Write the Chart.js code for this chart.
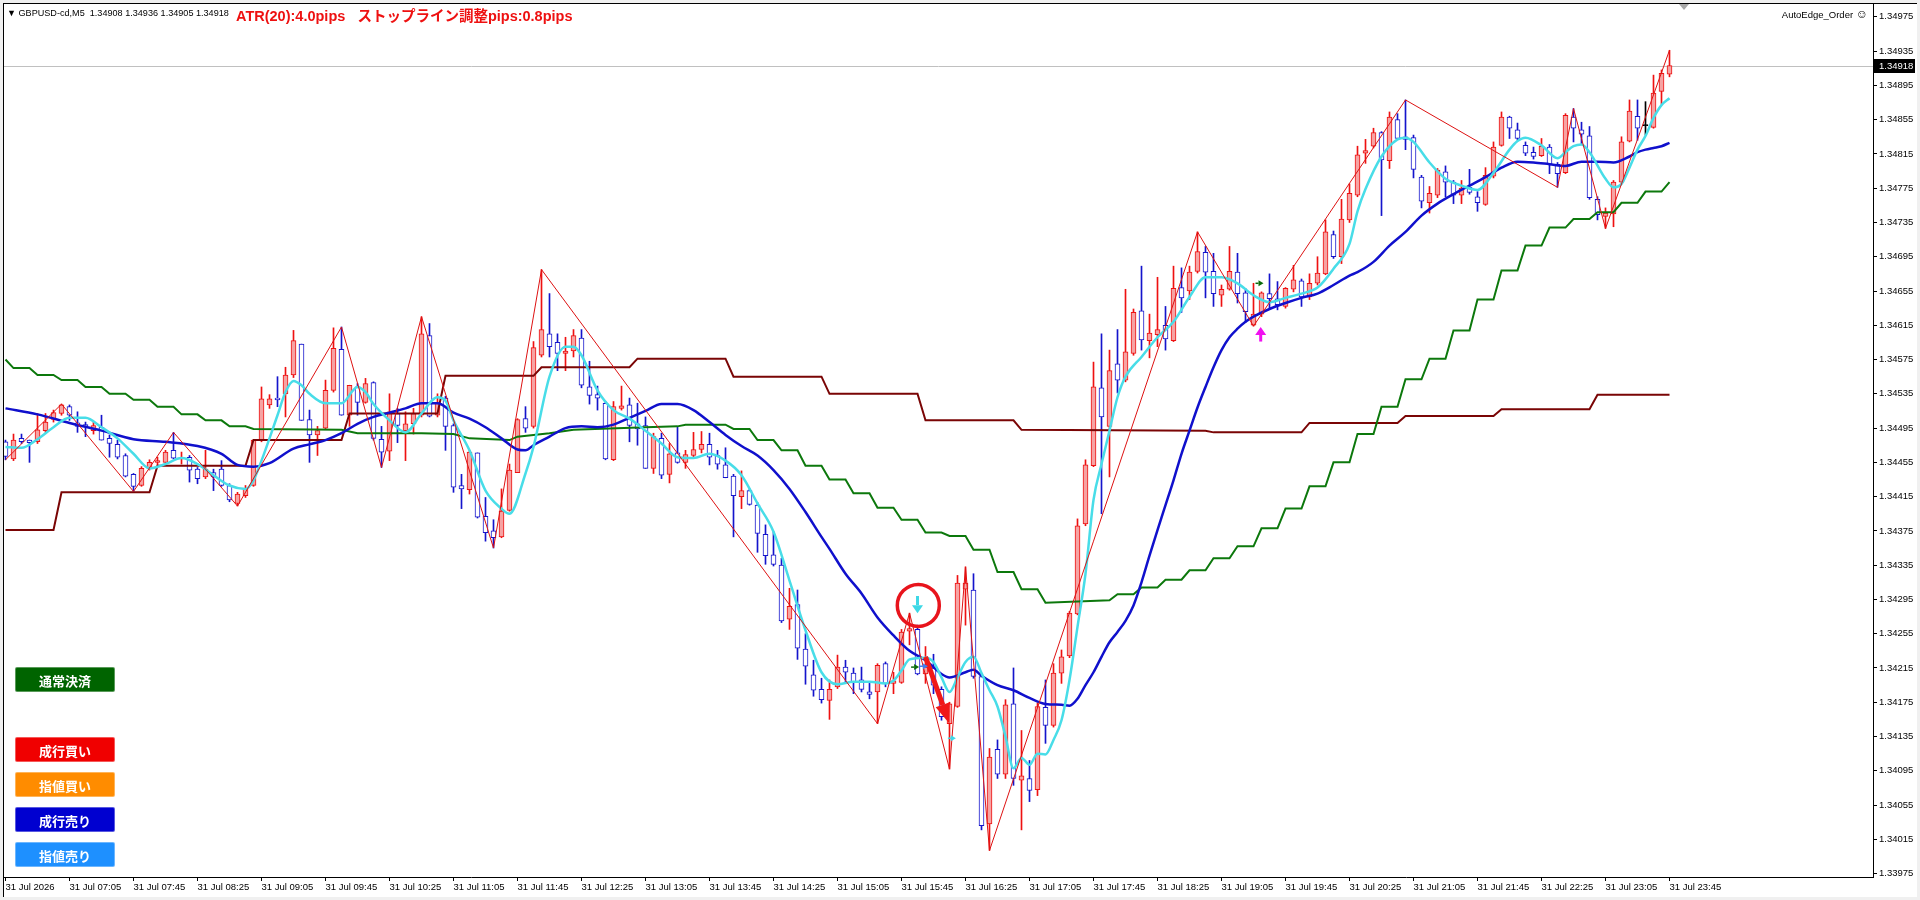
<!DOCTYPE html>
<html>
<head>
<meta charset="utf-8">
<title>GBPUSD-cd,M5</title>
<script src="https://cdn.jsdelivr.net/npm/chart.js@4.4.1/dist/chart.umd.min.js"></script>
<style>
    html, body { margin: 0; padding: 0; width: 1920px; height: 900px; overflow: hidden; background: #f0f0f0; }
    #frame { position: absolute; left: 3px; top: 3px; width: 1913px; height: 893px; background: #fff;
             border-left: 1px solid #000; border-top: 1px solid #000; }
    #chart { position: absolute; left: 0; top: 0; }
    .txt { position: absolute; white-space: pre; font-family: 'Liberation Sans', Arial, sans-serif; }
    #info { left: 7px; top: 8px; font-size: 9.1px; color: #000; }
    #atr { left: 236px; top: 4px; font-size: 14.5px; font-weight: bold; color: #ee1111;
           font-family: 'Liberation Sans', 'Noto Sans CJK JP', sans-serif; }
    #ea { right: 52px; top: 7px; font-size: 9.5px; color: #000; font-family: 'Liberation Sans', 'DejaVu Sans', sans-serif; }
    #ea span { font-size: 12px; }
    #shift { position: absolute; left: 1679px; top: 4px; width: 0; height: 0;
             border-left: 5px solid transparent; border-right: 5px solid transparent; border-top: 6px solid #a8a8a8; }
    .btn { position: absolute; left: 15px; width: 100px; height: 25px; line-height: 25px; text-align: center;
           color: #fff; font-size: 13px; font-weight: bold; border-radius: 2px;
           font-family: 'Noto Sans CJK JP', sans-serif; box-sizing: border-box; border: 1px solid rgba(255,255,255,0.35); }
</style>
</head>
<body>
<div id="frame"></div>
<canvas id="chart" width="1920" height="900"></canvas>
<div class="txt" id="info">▼ GBPUSD-cd,M5  1.34908 1.34936 1.34905 1.34918</div>
<div class="txt" id="atr">ATR(20):4.0pips   ストップライン調整pips:0.8pips</div>
<div class="txt" id="ea">AutoEdge_Order <span>☺</span></div>
<div id="shift"></div>
<div class="btn" style="top:667px;background:#006400;">通常決済</div>
<div class="btn" style="top:737px;background:#f00000;">成行買い</div>
<div class="btn" style="top:772px;background:#ff8c00;">指値買い</div>
<div class="btn" style="top:807px;background:#0000d0;">成行売り</div>
<div class="btn" style="top:842px;background:#1e90ff;">指値売り</div>

<script>
// M5 bars, 31 Jul 06:25 .. 23:45
const opens = [
    1.34479, 1.34459, 1.34483, 1.34481, 1.34479, 1.34492, 1.34505, 1.34512, 1.34520, 1.34501,
    1.34499, 1.34492, 1.34496, 1.34483, 1.34476, 1.34463, 1.34441, 1.34428, 1.34448, 1.34455,
    1.34455, 1.34469, 1.34459, 1.34461, 1.34447, 1.34438, 1.34443, 1.34447, 1.34428, 1.34407,
    1.34416, 1.34428, 1.34481, 1.34522, 1.34530, 1.34535, 1.34557, 1.34593, 1.34505, 1.34487,
    1.34495, 1.34539, 1.34587, 1.34510, 1.34543, 1.34525, 1.34548, 1.34482, 1.34468, 1.34512,
    1.34492, 1.34500, 1.34510, 1.34603, 1.34510, 1.34530, 1.34498, 1.34428, 1.34423, 1.34466,
    1.34392, 1.34375, 1.34368, 1.34399, 1.34443, 1.34506, 1.34497, 1.34580, 1.34605, 1.34595,
    1.34582, 1.34585, 1.34600, 1.34543, 1.34534, 1.34524, 1.34458, 1.34518, 1.34522, 1.34500,
    1.34498, 1.34448, 1.34483, 1.34441, 1.34466, 1.34455, 1.34463, 1.34470, 1.34476, 1.34463,
    1.34452, 1.34439, 1.34415, 1.34422, 1.34405, 1.34371, 1.34347, 1.34335, 1.34272, 1.34289,
    1.34237, 1.34207, 1.34190, 1.34177, 1.34193, 1.34216, 1.34209, 1.34201, 1.34187, 1.34187,
    1.34220, 1.34197, 1.34198, 1.34258, 1.34260, 1.34208, 1.34215, 1.34190, 1.34150, 1.34170,
    1.34307, 1.34306, 1.34205, 1.34033, 1.34120, 1.34091, 1.34173, 1.34084, 1.34086, 1.34073,
    1.34169, 1.34148, 1.34209, 1.34229, 1.34278, 1.34383, 1.34451, 1.34542, 1.34497, 1.34570,
    1.34551, 1.34582, 1.34632, 1.34597, 1.34604, 1.34615, 1.34597, 1.34659, 1.34655, 1.34678,
    1.34700, 1.34678, 1.34650, 1.34657, 1.34677, 1.34653, 1.34615, 1.34628, 1.34652, 1.34646,
    1.34637, 1.34657, 1.34667, 1.34648, 1.34664, 1.34675, 1.34721, 1.34695, 1.34738, 1.34767,
    1.34816, 1.34824, 1.34840, 1.34807, 1.34855, 1.34835, 1.34834, 1.34788, 1.34758, 1.34767,
    1.34794, 1.34782, 1.34767, 1.34776, 1.34765, 1.34756, 1.34789, 1.34825, 1.34858, 1.34843,
    1.34825, 1.34817, 1.34813, 1.34823, 1.34803, 1.34793, 1.34858, 1.34843, 1.34836, 1.34762,
    1.34742, 1.34745, 1.34782, 1.34830, 1.34859, 1.34848, 1.34846, 1.34888, 1.34908
];
const highs = [
    1.34481, 1.34488, 1.34488, 1.34481, 1.34512, 1.34512, 1.34516, 1.34523, 1.34522, 1.34514,
    1.34502, 1.34502, 1.34510, 1.34487, 1.34481, 1.34465, 1.34442, 1.34450, 1.34458, 1.34461,
    1.34469, 1.34490, 1.34467, 1.34463, 1.34449, 1.34469, 1.34447, 1.34457, 1.34430, 1.34420,
    1.34428, 1.34481, 1.34543, 1.34534, 1.34555, 1.34566, 1.34609, 1.34593, 1.34516, 1.34497,
    1.34551, 1.34612, 1.34613, 1.34545, 1.34547, 1.34553, 1.34549, 1.34497, 1.34535, 1.34518,
    1.34514, 1.34518, 1.34625, 1.34617, 1.34535, 1.34532, 1.34500, 1.34441, 1.34469, 1.34466,
    1.34414, 1.34388, 1.34424, 1.34453, 1.34506, 1.34520, 1.34596, 1.34680, 1.34652, 1.34605,
    1.34601, 1.34610, 1.34610, 1.34573, 1.34544, 1.34526, 1.34526, 1.34544, 1.34530, 1.34524,
    1.34508, 1.34489, 1.34489, 1.34477, 1.34497, 1.34469, 1.34490, 1.34491, 1.34489, 1.34469,
    1.34472, 1.34441, 1.34445, 1.34424, 1.34408, 1.34382, 1.34374, 1.34343, 1.34308, 1.34306,
    1.34255, 1.34224, 1.34203, 1.34201, 1.34230, 1.34224, 1.34215, 1.34216, 1.34197, 1.34220,
    1.34222, 1.34210, 1.34260, 1.34279, 1.34265, 1.34240, 1.34231, 1.34193, 1.34175, 1.34323,
    1.34333, 1.34325, 1.34207, 1.34121, 1.34131, 1.34178, 1.34215, 1.34142, 1.34107, 1.34174,
    1.34201, 1.34220, 1.34236, 1.34281, 1.34389, 1.34458, 1.34572, 1.34605, 1.34586, 1.34610,
    1.34657, 1.34634, 1.34684, 1.34628, 1.34671, 1.34637, 1.34684, 1.34682, 1.34684, 1.34724,
    1.34707, 1.34699, 1.34662, 1.34707, 1.34699, 1.34658, 1.34664, 1.34654, 1.34675, 1.34666,
    1.34659, 1.34685, 1.34669, 1.34675, 1.34695, 1.34738, 1.34725, 1.34762, 1.34780, 1.34824,
    1.34832, 1.34845, 1.34841, 1.34864, 1.34862, 1.34878, 1.34837, 1.34790, 1.34777, 1.34798,
    1.34801, 1.34784, 1.34784, 1.34797, 1.34771, 1.34799, 1.34829, 1.34864, 1.34859, 1.34851,
    1.34829, 1.34823, 1.34833, 1.34826, 1.34805, 1.34862, 1.34868, 1.34852, 1.34847, 1.34765,
    1.34752, 1.34784, 1.34835, 1.34878, 1.34878, 1.34876, 1.34907, 1.34913, 1.34936
];
const lows = [
    1.34458, 1.34457, 1.34477, 1.34455, 1.34477, 1.34490, 1.34502, 1.34510, 1.34504, 1.34490,
    1.34485, 1.34488, 1.34481, 1.34461, 1.34459, 1.34438, 1.34421, 1.34427, 1.34446, 1.34451,
    1.34453, 1.34459, 1.34453, 1.34432, 1.34430, 1.34436, 1.34422, 1.34427, 1.34409, 1.34404,
    1.34414, 1.34427, 1.34479, 1.34518, 1.34520, 1.34508, 1.34554, 1.34504, 1.34455, 1.34463,
    1.34494, 1.34537, 1.34510, 1.34497, 1.34510, 1.34524, 1.34481, 1.34449, 1.34457, 1.34478,
    1.34457, 1.34488, 1.34508, 1.34508, 1.34508, 1.34469, 1.34420, 1.34401, 1.34418, 1.34390,
    1.34363, 1.34355, 1.34367, 1.34398, 1.34443, 1.34490, 1.34495, 1.34578, 1.34578, 1.34562,
    1.34562, 1.34578, 1.34542, 1.34523, 1.34516, 1.34458, 1.34457, 1.34516, 1.34479, 1.34475,
    1.34448, 1.34442, 1.34436, 1.34431, 1.34454, 1.34448, 1.34461, 1.34466, 1.34452, 1.34447,
    1.34437, 1.34368, 1.34401, 1.34405, 1.34350, 1.34336, 1.34334, 1.34268, 1.34260, 1.34225,
    1.34196, 1.34182, 1.34174, 1.34155, 1.34191, 1.34197, 1.34185, 1.34187, 1.34179, 1.34150,
    1.34193, 1.34185, 1.34197, 1.34242, 1.34207, 1.34197, 1.34185, 1.34154, 1.34097, 1.34169,
    1.34265, 1.34203, 1.34026, 1.34002, 1.34086, 1.34086, 1.34078, 1.34026, 1.34059, 1.34066,
    1.34127, 1.34146, 1.34197, 1.34227, 1.34277, 1.34381, 1.34450, 1.34395, 1.34438, 1.34536,
    1.34549, 1.34580, 1.34586, 1.34577, 1.34590, 1.34586, 1.34596, 1.34630, 1.34645, 1.34676,
    1.34647, 1.34637, 1.34637, 1.34656, 1.34641, 1.34618, 1.34614, 1.34625, 1.34635, 1.34633,
    1.34635, 1.34654, 1.34637, 1.34645, 1.34662, 1.34674, 1.34693, 1.34687, 1.34735, 1.34765,
    1.34804, 1.34822, 1.34743, 1.34798, 1.34832, 1.34820, 1.34787, 1.34752, 1.34746, 1.34764,
    1.34765, 1.34757, 1.34757, 1.34768, 1.34748, 1.34755, 1.34787, 1.34824, 1.34833, 1.34831,
    1.34813, 1.34809, 1.34812, 1.34792, 1.34776, 1.34792, 1.34829, 1.34827, 1.34762, 1.34738,
    1.34728, 1.34730, 1.34780, 1.34829, 1.34831, 1.34837, 1.34845, 1.34873, 1.34905
];
const closes = [
    1.34462, 1.34481, 1.34479, 1.34478, 1.34493, 1.34502, 1.34513, 1.34522, 1.34510, 1.34497,
    1.34497, 1.34498, 1.34481, 1.34477, 1.34461, 1.34439, 1.34427, 1.34448, 1.34455, 1.34457,
    1.34467, 1.34460, 1.34461, 1.34446, 1.34436, 1.34447, 1.34438, 1.34428, 1.34411, 1.34418,
    1.34424, 1.34481, 1.34529, 1.34529, 1.34528, 1.34557, 1.34597, 1.34504, 1.34487, 1.34492,
    1.34539, 1.34588, 1.34510, 1.34545, 1.34525, 1.34547, 1.34483, 1.34467, 1.34514, 1.34498,
    1.34500, 1.34512, 1.34605, 1.34509, 1.34524, 1.34497, 1.34426, 1.34424, 1.34467, 1.34391,
    1.34373, 1.34367, 1.34398, 1.34446, 1.34505, 1.34495, 1.34589, 1.34610, 1.34590, 1.34582,
    1.34585, 1.34603, 1.34545, 1.34533, 1.34530, 1.34459, 1.34520, 1.34521, 1.34498, 1.34494,
    1.34448, 1.34485, 1.34440, 1.34465, 1.34455, 1.34464, 1.34470, 1.34476, 1.34461, 1.34453,
    1.34437, 1.34416, 1.34422, 1.34406, 1.34372, 1.34346, 1.34336, 1.34270, 1.34287, 1.34238,
    1.34217, 1.34189, 1.34178, 1.34190, 1.34216, 1.34210, 1.34199, 1.34190, 1.34184, 1.34218,
    1.34197, 1.34200, 1.34257, 1.34261, 1.34208, 1.34216, 1.34195, 1.34158, 1.34173, 1.34314,
    1.34314, 1.34205, 1.34031, 1.34111, 1.34091, 1.34172, 1.34086, 1.34089, 1.34072, 1.34170,
    1.34148, 1.34209, 1.34228, 1.34279, 1.34381, 1.34452, 1.34543, 1.34508, 1.34562, 1.34551,
    1.34584, 1.34630, 1.34598, 1.34606, 1.34610, 1.34599, 1.34658, 1.34647, 1.34677, 1.34701,
    1.34677, 1.34652, 1.34657, 1.34678, 1.34652, 1.34631, 1.34628, 1.34653, 1.34646, 1.34639,
    1.34658, 1.34668, 1.34648, 1.34664, 1.34676, 1.34724, 1.34695, 1.34739, 1.34769, 1.34814,
    1.34819, 1.34840, 1.34808, 1.34858, 1.34833, 1.34832, 1.34797, 1.34760, 1.34769, 1.34796,
    1.34782, 1.34767, 1.34775, 1.34770, 1.34758, 1.34790, 1.34823, 1.34858, 1.34845, 1.34833,
    1.34816, 1.34812, 1.34824, 1.34803, 1.34792, 1.34860, 1.34845, 1.34838, 1.34764, 1.34744,
    1.34746, 1.34782, 1.34829, 1.34865, 1.34845, 1.34848, 1.34886, 1.34909, 1.34918
];

// indicator lines, [bar, price]
const fastMA = [
    [0, 1.34473], [2, 1.34472], [4, 1.34482], [6, 1.34496], [8, 1.34507], [10, 1.34507], [12, 1.34496],
    [14, 1.34483], [16, 1.34465], [18, 1.34448], [20, 1.34453], [22, 1.34460], [24, 1.34453], [26, 1.34440],
    [28, 1.34428], [30, 1.34424], [31, 1.34434], [32, 1.34457], [34, 1.34510], [35, 1.34537], [36, 1.34550],
    [37, 1.34545], [38, 1.34535], [40, 1.34524], [42, 1.34524], [44, 1.34543], [45, 1.34537], [46, 1.34523],
    [48, 1.34504], [50, 1.34490], [52, 1.34512], [54, 1.34531], [55, 1.34527], [56, 1.34504], [58, 1.34469],
    [60, 1.34422], [62, 1.34401], [63, 1.34395], [65, 1.34442], [66, 1.34473], [68, 1.34555], [70, 1.34590],
    [71, 1.34590], [72, 1.34580], [74, 1.34539], [76, 1.34516], [78, 1.34506], [80, 1.34492], [82, 1.34477],
    [84, 1.34461], [86, 1.34460], [88, 1.34465], [90, 1.34457], [92, 1.34440], [94, 1.34407], [96, 1.34374],
    [98, 1.34317], [100, 1.34259], [102, 1.34210], [104, 1.34196], [106, 1.34199], [108, 1.34199],
    [110, 1.34197], [111, 1.34200], [112, 1.34212], [113, 1.34225], [115, 1.34227], [116, 1.34222],
    [117, 1.34204], [118, 1.34187], [119, 1.34204], [120, 1.34222], [121, 1.34228], [122, 1.34209],
    [123, 1.34189], [124, 1.34170], [125, 1.34135], [126, 1.34098], [127, 1.34110], [128, 1.34102],
    [129, 1.34115], [130, 1.34114], [131, 1.34131], [132, 1.34154], [133, 1.34201], [134, 1.34263],
    [135, 1.34325], [136, 1.34411], [137, 1.34453], [138, 1.34492], [139, 1.34531], [140, 1.34555],
    [142, 1.34578], [144, 1.34601], [146, 1.34619], [148, 1.34648], [150, 1.34671], [152, 1.34671],
    [154, 1.34664], [156, 1.34650], [158, 1.34642], [160, 1.34647], [162, 1.34652], [164, 1.34659],
    [166, 1.34681], [168, 1.34710], [169, 1.34748], [170, 1.34774], [172, 1.34812], [174, 1.34832],
    [175, 1.34834], [176, 1.34829], [178, 1.34805], [180, 1.34786], [182, 1.34778], [184, 1.34773],
    [186, 1.34793], [188, 1.34820], [189, 1.34830], [190, 1.34834], [192, 1.34825], [194, 1.34810],
    [195, 1.34817], [196, 1.34824], [197, 1.34826], [198, 1.34817], [200, 1.34786], [201, 1.34776],
    [202, 1.34780], [203, 1.34799], [204, 1.34820], [205, 1.34836], [206, 1.34857], [207, 1.34872],
    [208, 1.34880]
];
const slowMA = [
    [0, 1.34518], [4, 1.34511], [8, 1.34501], [12, 1.34492], [16, 1.34482], [20, 1.34479], [24, 1.34474],
    [27, 1.34465], [29, 1.34452], [31, 1.34450], [33, 1.34454], [36, 1.34471], [38, 1.34476], [40, 1.34481],
    [42, 1.34489], [44, 1.34500], [46, 1.34508], [48, 1.34513], [50, 1.34518], [52, 1.34524], [54, 1.34524],
    [56, 1.34513], [58, 1.34506], [60, 1.34496], [62, 1.34483], [64, 1.34470], [65, 1.34469], [66, 1.34475],
    [68, 1.34485], [70, 1.34495], [72, 1.34497], [74, 1.34496], [76, 1.34499], [78, 1.34507], [80, 1.34515],
    [82, 1.34523], [84, 1.34523], [86, 1.34516], [88, 1.34502], [90, 1.34487], [92, 1.34474], [94, 1.34463],
    [96, 1.34446], [98, 1.34424], [100, 1.34397], [102, 1.34368], [103, 1.34354], [105, 1.34325],
    [107, 1.34302], [109, 1.34274], [111, 1.34253], [113, 1.34235], [115, 1.34224], [117, 1.34208],
    [118, 1.34204], [120, 1.34210], [121, 1.34213], [122, 1.34206], [124, 1.34195], [126, 1.34189],
    [128, 1.34180], [130, 1.34173], [132, 1.34172], [133, 1.34171], [134, 1.34179], [135, 1.34195],
    [136, 1.34210], [137, 1.34228], [138, 1.34245], [139, 1.34257], [140, 1.34270], [141, 1.34288],
    [142, 1.34315], [143, 1.34346], [144, 1.34376], [145, 1.34405], [146, 1.34434], [147, 1.34465],
    [148, 1.34492], [149, 1.34519], [150, 1.34543], [151, 1.34566], [152, 1.34586], [153, 1.34601],
    [154, 1.34611], [155, 1.34619], [156, 1.34625], [158, 1.34634], [160, 1.34641], [162, 1.34647],
    [164, 1.34652], [166, 1.34662], [168, 1.34673], [169, 1.34677], [171, 1.34689], [173, 1.34708],
    [175, 1.34724], [177, 1.34743], [179, 1.34757], [181, 1.34768], [183, 1.34778], [185, 1.34788],
    [187, 1.34799], [189, 1.34806], [191, 1.34805], [193, 1.34803], [195, 1.34801], [197, 1.34806],
    [199, 1.34806], [201, 1.34805], [203, 1.34812], [204, 1.34817], [205, 1.34820], [206, 1.34822],
    [207, 1.34824], [208, 1.34828]
];
const greenStop = [
    [0, 1.34575], [1, 1.34565], [3, 1.34565], [4, 1.34557], [6, 1.34557], [7, 1.34551], [9, 1.34551],
    [10, 1.34543], [12, 1.34543], [13, 1.34535], [15, 1.34535], [16, 1.34528], [18, 1.34528], [19, 1.34520],
    [21, 1.34520], [22, 1.34511], [24, 1.34511], [25, 1.34504], [27, 1.34504], [28, 1.34497], [30, 1.34497],
    [31, 1.34494], [42, 1.34493], [44, 1.34489], [52, 1.34489], [56, 1.34488], [58, 1.34483], [63, 1.34481],
    [64, 1.34485], [68, 1.34489], [71, 1.34493], [80, 1.34496], [84, 1.34497], [85, 1.34499], [90, 1.34499],
    [91, 1.34494], [93, 1.34494], [94, 1.34481], [96, 1.34481], [97, 1.34469], [99, 1.34469], [100, 1.34451],
    [102, 1.34451], [103, 1.34435], [105, 1.34435], [106, 1.34419], [108, 1.34419], [109, 1.34402],
    [111, 1.34402], [112, 1.34388], [114, 1.34388], [115, 1.34373], [117, 1.34373], [118, 1.34369],
    [120, 1.34369], [121, 1.34353], [123, 1.34353], [124, 1.34327], [126, 1.34327], [127, 1.34307],
    [129, 1.34307], [130, 1.34291], [138, 1.34294], [139, 1.34301], [141, 1.34301], [142, 1.34309],
    [144, 1.34309], [145, 1.34318], [147, 1.34318], [148, 1.34329], [150, 1.34329], [151, 1.34343],
    [153, 1.34343], [154, 1.34357], [156, 1.34357], [157, 1.34378], [159, 1.34378], [160, 1.34401],
    [162, 1.34401], [163, 1.34427], [165, 1.34427], [166, 1.34455], [168, 1.34455], [169, 1.34488],
    [171, 1.34488], [172, 1.34520], [174, 1.34520], [175, 1.34552], [177, 1.34552], [178, 1.34576],
    [180, 1.34576], [181, 1.34609], [183, 1.34609], [184, 1.34645], [186, 1.34645], [187, 1.34679],
    [189, 1.34679], [190, 1.34708], [192, 1.34708], [193, 1.34729], [195, 1.34729], [196, 1.34739],
    [198, 1.34739], [199, 1.34747], [201, 1.34747], [202, 1.34758], [204, 1.34758], [205, 1.34771],
    [207, 1.34771], [208, 1.34782]
];
const hourLine = [
    [0, 1.34376], [6, 1.34376], [7, 1.34420], [18, 1.34420], [19, 1.34451], [30, 1.34451], [31, 1.34481],
    [42, 1.34481], [43, 1.34512], [54, 1.34512], [55, 1.34556], [66, 1.34556], [67, 1.34566], [78, 1.34566],
    [79, 1.34576], [90, 1.34576], [91, 1.34555], [102, 1.34555], [103, 1.34535], [114, 1.34535],
    [115, 1.34504], [126, 1.34504], [127, 1.34493], [150, 1.34492], [151, 1.34490], [162, 1.34490],
    [163, 1.34501], [174, 1.34501], [175, 1.34509], [186, 1.34509], [187, 1.34517], [198, 1.34517],
    [199, 1.34534], [208, 1.34534]
];
const zigzag = [
    [0, 1.34458], [7, 1.34523], [16, 1.34421], [21, 1.34490], [29, 1.34404], [42, 1.34613], [47, 1.34449],
    [52, 1.34625], [61, 1.34355], [67, 1.34680], [109, 1.34150], [113, 1.34279], [118, 1.34097],
    [120, 1.34333], [123, 1.34002], [149, 1.34724], [156, 1.34614], [175, 1.34878], [194, 1.34776],
    [196, 1.34868], [200, 1.34728], [208, 1.34936]
];

// signal objects, [bar, price] or [bar, price, bar, price]
const entryCircle = [114.1, 1.34288];
const sellArrow = [114, 1.34299, 114, 1.34279];
const exitArrow = [115, 1.34228, 118, 1.34150];
const buyArrow = [156.9, 1.34596, 156.9, 1.34613];
const smallMarks = [[113.7, 1.34216], [114.8, 1.34217], [118.3, 1.34133], [156.75, 1.34664]];
const bid = 1.34918;

const xTickBars = [0, 8, 16, 24, 32, 40, 48, 56, 64, 72, 80, 88, 96, 104, 112, 120, 128, 136, 144, 152,
    160, 168, 176, 184, 192, 200, 208];
const xLabels = ['31 Jul 2026', '31 Jul 07:05', '31 Jul 07:45', '31 Jul 08:25', '31 Jul 09:05', '31 Jul 09:45',
    '31 Jul 10:25', '31 Jul 11:05', '31 Jul 11:45', '31 Jul 12:25', '31 Jul 13:05', '31 Jul 13:45', '31 Jul 14:25',
    '31 Jul 15:05', '31 Jul 15:45', '31 Jul 16:25', '31 Jul 17:05', '31 Jul 17:45', '31 Jul 18:25', '31 Jul 19:05',
    '31 Jul 19:45', '31 Jul 20:25', '31 Jul 21:05', '31 Jul 21:45', '31 Jul 22:25', '31 Jul 23:05', '31 Jul 23:45'];
const yTicks = [1.33975, 1.34015, 1.34055, 1.34095, 1.34135, 1.34175, 1.34215, 1.34255, 1.34295, 1.34335,
    1.34375, 1.34415, 1.34455, 1.34495, 1.34535, 1.34575, 1.34615, 1.34655, 1.34695, 1.34735, 1.34775,
    1.34815, 1.34855, 1.34895, 1.34935, 1.34975];

const FONT = "'Liberation Sans', Arial, sans-serif";
Chart.defaults.font.family = FONT;

const bars = opens.map((_, i) => i);
const dir = bars.map(i => Math.sign(closes[i] - opens[i]));
const bodyFill = dir.map(d => d > 0 ? '#f6a3a3' : (d < 0 ? '#ffffff' : '#000000'));
const bodyLine = dir.map(d => d > 0 ? '#ee1111' : (d < 0 ? '#1414cc' : '#000000'));
const pts = arr => arr.map(p => ({x: p[0], y: p[1]}));

function drawArrow(ctx, x1, y1, x2, y2, shaft, headLen, headW, color) {
    const a = Math.atan2(y2 - y1, x2 - x1);
    const bx = x2 - Math.cos(a) * headLen;
    const by = y2 - Math.sin(a) * headLen;
    ctx.strokeStyle = color;
    ctx.fillStyle = color;
    ctx.lineWidth = shaft;
    ctx.beginPath();
    ctx.moveTo(x1, y1);
    ctx.lineTo(bx, by);
    ctx.stroke();
    ctx.beginPath();
    ctx.moveTo(x2, y2);
    ctx.lineTo(bx + Math.sin(a) * headW / 2, by - Math.cos(a) * headW / 2);
    ctx.lineTo(bx - Math.sin(a) * headW / 2, by + Math.cos(a) * headW / 2);
    ctx.closePath();
    ctx.fill();
}

const overlay = {
    id: 'overlay',
    beforeDatasetsDraw(chart) {
        const {ctx, chartArea: a, scales: {y}} = chart;
        const py = Math.round(y.getPixelForValue(bid)) + 0.5;
        ctx.save();
        ctx.strokeStyle = '#c0c0c0';
        ctx.lineWidth = 1;
        ctx.beginPath();
        ctx.moveTo(a.left, py);
        ctx.lineTo(a.right, py);
        ctx.stroke();
        ctx.restore();
    },
    afterDatasetsDraw(chart) {
        const {ctx, scales: {x, y}} = chart;
        const px = v => x.getPixelForValue(v);
        const py = v => y.getPixelForValue(v);
        ctx.save();

        // entry circle and sell signal
        ctx.strokeStyle = '#e8141c';
        ctx.lineWidth = 3.5;
        ctx.beginPath();
        ctx.arc(px(entryCircle[0]), py(entryCircle[1]), 21, 0, Math.PI * 2);
        ctx.stroke();
        drawArrow(ctx, px(sellArrow[0]), py(sellArrow[1]), px(sellArrow[2]), py(sellArrow[3]), 3, 8, 11, '#3ed8e6');

        // exit arrow
        drawArrow(ctx, px(exitArrow[0]), py(exitArrow[1]), px(exitArrow[2]), py(exitArrow[3]), 5, 20, 15, '#f01818');

        // buy signal
        drawArrow(ctx, px(buyArrow[0]), py(buyArrow[1]), px(buyArrow[2]), py(buyArrow[3]), 3, 8, 11, '#f010f0');

        // small order marks
        const markColors = ['#0a6a0a', '#3c7cf0', '#40d8e8', '#0a6a0a'];
        smallMarks.forEach((m, k) => {
            const mx = px(m[0]), my = py(m[1]);
            drawArrow(ctx, mx - 4, my, mx + 4, my, 1.5, 5, 6, markColors[k]);
        });
        ctx.restore();
    },
    afterDraw(chart) {
        const {ctx, chartArea: a, scales: {y}} = chart;
        const py = Math.round(y.getPixelForValue(bid));
        ctx.save();
        ctx.fillStyle = '#000';
        ctx.fillRect(a.right + 1, py - 7, 41, 14);
        ctx.fillStyle = '#fff';
        ctx.font = '9.5px ' + FONT;
        ctx.textBaseline = 'middle';
        ctx.textAlign = 'left';
        ctx.fillText(bid.toFixed(5), a.right + 6, py + 0.5);
        ctx.restore();
    }
};

new Chart(document.getElementById('chart').getContext('2d'), {
    type: 'bar',
    data: {
        datasets: [
            {
                type: 'line', data: pts(zigzag), borderColor: '#dd1111', borderWidth: 1,
                pointRadius: 0, tension: 0, order: 0
            },
            {
                type: 'line', data: pts(fastMA), borderColor: '#48dde8', borderWidth: 2.5,
                pointRadius: 0, cubicInterpolationMode: 'monotone', order: 1
            },
            {
                type: 'line', data: pts(slowMA), borderColor: '#1010cc', borderWidth: 2.5,
                pointRadius: 0, cubicInterpolationMode: 'monotone', order: 2
            },
            {
                type: 'line', data: pts(greenStop), borderColor: '#0c780c', borderWidth: 2,
                pointRadius: 0, tension: 0, order: 3
            },
            {
                type: 'line', data: pts(hourLine), borderColor: '#7a0505', borderWidth: 2,
                pointRadius: 0, tension: 0, order: 4
            },
            {
                data: bars.map(i => ({x: i, y: [opens[i], closes[i]]})),
                backgroundColor: bodyFill,
                borderColor: bodyLine,
                borderWidth: 1,
                borderSkipped: false,
                barThickness: 5,
                minBarLength: 1,
                grouped: false,
                order: 5
            },
            {
                data: bars.map(i => ({x: i, y: [lows[i], highs[i]]})),
                backgroundColor: bodyLine,
                borderWidth: 0,
                barThickness: 1,
                grouped: false,
                order: 6
            }
        ]
    },
    options: {
        responsive: false,
        animation: false,
        devicePixelRatio: 1,
        layout: {padding: {left: 4, top: 4, right: 0, bottom: 0}},
        plugins: {
            legend: {display: false},
            tooltip: {enabled: false}
        },
        scales: {
            x: {
                type: 'linear',
                min: -0.1875,
                max: 233.4375,
                offset: false,
                afterBuildTicks: s => { s.ticks = xTickBars.map(v => ({value: v})); },
                afterFit: s => { s.height = 23; s.paddingLeft = 0; s.paddingRight = 0; },
                ticks: {
                    autoSkip: false,
                    maxRotation: 0,
                    minRotation: 0,
                    align: 'start',
                    padding: 1,
                    color: '#000',
                    font: {size: 9.5},
                    callback: (v, i) => xLabels[i]
                },
                grid: {drawOnChartArea: false, drawTicks: true, tickLength: 4, color: '#000', offset: false},
                border: {display: true, color: '#000', width: 1}
            },
            y: {
                position: 'right',
                min: 1.33971,
                max: 1.34990,
                afterBuildTicks: s => { s.ticks = yTicks.map(v => ({value: v})); },
                afterFit: s => { s.width = 47; s.paddingTop = 0; s.paddingBottom = 0; },
                ticks: {
                    padding: 2,
                    color: '#000',
                    font: {size: 9.5},
                    callback: v => v.toFixed(5)
                },
                grid: {drawOnChartArea: false, drawTicks: true, tickLength: 4, color: '#000'},
                border: {display: true, color: '#000', width: 1}
            }
        }
    },
    plugins: [overlay]
});
</script>
</body>
</html>
